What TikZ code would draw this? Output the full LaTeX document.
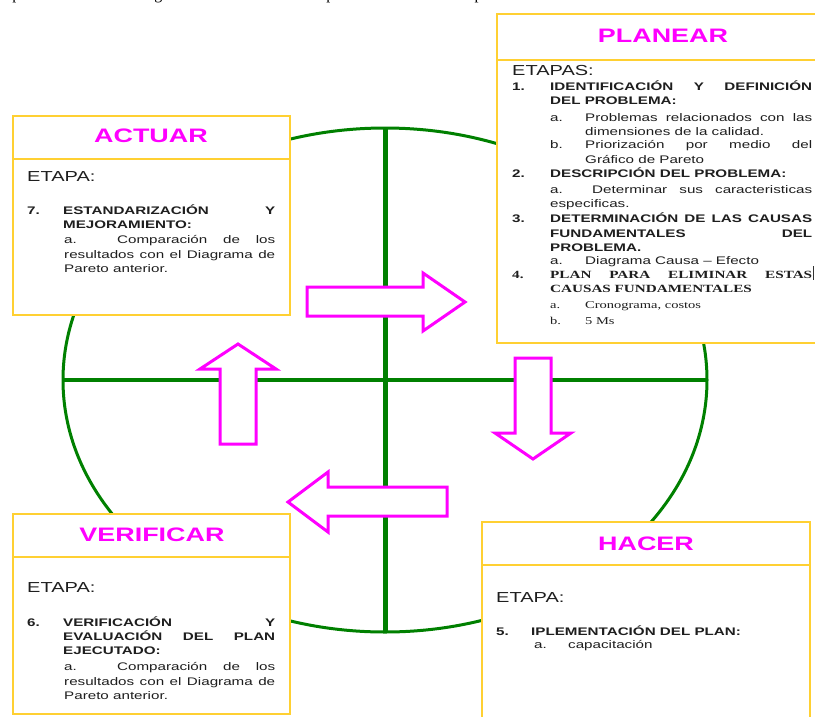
\documentclass[tikz,border=0pt]{standalone}
\usepackage{fontspec}
\newfontfamily\fSans[FakeStretch=1.38]{Liberation Sans}
\newfontfamily\fSerif[FakeStretch=1.38]{Liberation Serif}
\newfontfamily\fTop{Liberation Serif}
\definecolor{boxyel}{RGB}{255,208,50}
\definecolor{mag}{RGB}{255,0,255}
\definecolor{grn}{RGB}{0,128,0}
\definecolor{tgray}{RGB}{30,30,30}
\newcommand\fHd{\fSans\bfseries\fontsize{11}{13}\selectfont}
\newcommand\fRg{\fSans\fontsize{11}{13}\selectfont}
\newcommand\fEt{\fSans\fontsize{14.5}{16}\selectfont}
\newcommand\fTt{\fSans\bfseries\fontsize{19.5}{22}\selectfont}
\newcommand\fSb{\fSerif\bfseries\fontsize{11}{13}\selectfont}
\newcommand\fSr{\fSerif\fontsize{10.5}{12}\selectfont}
\newcommand\jl[2]{\makebox[#1pt][s]{#2}}
\tikzset{
  txt/.style={inner sep=0pt, anchor=base west, text=tgray},
  ttl/.style={inner sep=0pt, anchor=base, text=mag, font=\fTt},
  pbox/.style={draw=boxyel, line width=1.5pt, fill=white},
  barrow/.style={draw=mag, line width=3pt, fill=white, line join=miter},
  axis/.style={draw=grn}
}
\begin{document}
\begin{tikzpicture}[x=1pt,y=-1pt]
\useasboundingbox (0,0) rectangle (815,716);
% top (cut) line
\node[txt, text=black] (toptext) at (5,-0.4) {\fTop\fontsize{16}{18}\selectfont\jl{693}{epción metodológica estándar para la implementación de SCC}};
% circle and cross
\draw[axis, line width=3pt] (385,380) ellipse [x radius=322pt, y radius=252pt];
\draw[axis, line width=3.5pt] (63,380) -- (707,380);
\draw[axis, line width=5pt] (385,128) -- (385,632);
% arrows
\draw[barrow] (307,287) -- (423,287) -- (423,273) -- (465,302) -- (423,331) -- (423,316) -- (307,316) -- cycle;
\draw[barrow] (220,444) -- (220,369) -- (200,369) -- (238,344) -- (276,369) -- (256,369) -- (256,444) -- cycle;
\draw[barrow] (515,358) -- (551,358) -- (551,433) -- (571,433) -- (533,459) -- (495,433) -- (515,433) -- cycle;
\draw[barrow] (447,487) -- (328,487) -- (328,472) -- (288,502) -- (328,532) -- (328,516) -- (447,516) -- cycle;
% boxes
\draw[pbox] (497,14) rectangle (830,343);
\draw[draw=boxyel, line width=1.5pt] (497,60) -- (830,60);
\draw[pbox] (13,116) rectangle (290,315);
\draw[draw=boxyel, line width=1.5pt] (13,159) -- (290,159);
\draw[pbox] (13,514) rectangle (290,714);
\draw[draw=boxyel, line width=1.5pt] (13,557) -- (290,557);
\draw[pbox] (482,522) rectangle (810,730);
\draw[draw=boxyel, line width=1.5pt] (482,565) -- (810,565);
% titles
\node[ttl] (tplan) at (663,42) {PLANEAR};
\node[ttl] (tact) at (151,142) {ACTUAR};
\node[ttl] (tver) at (152,541) {VERIFICAR};
\node[ttl] (thac) at (646,550) {HACER};
% PLANEAR content
\node[txt] (p0) at (512,75) {\fEt ETAPAS:};
\node[txt] (p1n) at (512,90) {\fHd 1.};
\node[txt] (p1a) at (550,90) {\fHd\jl{262}{IDENTIFICACIÓN Y DEFINICIÓN}};
\node[txt] (p1b) at (550,104) {\fHd DEL PROBLEMA:};
\node[txt] (p1c) at (550,121) {\fRg a.};
\node[txt] (p1d) at (585,121) {\fRg\jl{227}{Problemas relacionados con las}};
\node[txt] (p1e) at (585,135) {\fRg dimensiones de la calidad.};
\node[txt] (p1f) at (550,148) {\fRg b.};
\node[txt] (p1g) at (585,148) {\fRg\jl{227}{Priorización por medio del}};
\node[txt] (p1h) at (585,163) {\fRg Gráfico de Pareto};
\node[txt] (p2n) at (512,177) {\fHd 2.};
\node[txt] (p2a) at (550,177) {\fHd DESCRIPCIÓN DEL PROBLEMA:};
\node[txt] (p2b) at (550,193) {\fRg\jl{262}{a. Determinar sus caracteristicas}};
\node[txt] (p2c) at (550,207) {\fRg especificas.};
\node[txt] (p3n) at (512,222) {\fHd 3.};
\node[txt] (p3a) at (550,222) {\fHd\jl{262}{DETERMINACIÓN DE LAS CAUSAS}};
\node[txt] (p3b) at (550,237) {\fHd\jl{262}{FUNDAMENTALES DEL}};
\node[txt] (p3c) at (550,251) {\fHd PROBLEMA.};
\node[txt] (p3d) at (550,264) {\fRg a.};
\node[txt] (p3e) at (585,264) {\fRg Diagrama Causa – Efecto};
\node[txt] (p4n) at (512,278) {\fSb 4.};
\node[txt] (p4a) at (550,278) {\fSb\jl{262}{PLAN PARA ELIMINAR ESTAS}};
\fill[black!80] (812.5,266) rectangle (814,280);
\node[txt] (p4b) at (550,292) {\fSb CAUSAS FUNDAMENTALES};
\node[txt] (p4c) at (550,308) {\fSr a.};
\node[txt] (p4d) at (585,308) {\fSr Cronograma, costos};
\node[txt] (p4e) at (550,324) {\fSr b.};
\node[txt] (p4f) at (585,324) {\fSr 5 Ms};
% ACTUAR content
\node[txt] (a0) at (27,181) {\fEt ETAPA:};
\node[txt] (a1n) at (27,214) {\fHd 7.};
\node[txt] (a1a) at (63,214) {\fHd\jl{212}{ESTANDARIZACIÓN Y}};
\node[txt] (a1b) at (63,228) {\fHd MEJORAMIENTO:};
\node[txt] (a1c) at (64,243) {\fRg\jl{211}{a. Comparación de los}};
\node[txt] (a1d) at (64,258) {\fRg\jl{211}{resultados con el Diagrama de}};
\node[txt] (a1e) at (64,272) {\fRg Pareto anterior.};
% VERIFICAR content
\node[txt] (v0) at (27,592) {\fEt ETAPA:};
\node[txt] (v1n) at (27,626) {\fHd 6.};
\node[txt] (v1a) at (63,626) {\fHd\jl{212}{VERIFICACIÓN Y}};
\node[txt] (v1b) at (63,640) {\fHd\jl{212}{EVALUACIÓN DEL PLAN}};
\node[txt] (v1c) at (63,654) {\fHd EJECUTADO:};
\node[txt] (v1d) at (64,670) {\fRg\jl{211}{a. Comparación de los}};
\node[txt] (v1e) at (64,685) {\fRg\jl{211}{resultados con el Diagrama de}};
\node[txt] (v1f) at (64,699) {\fRg Pareto anterior.};
% HACER content
\node[txt] (h0) at (496,602) {\fEt ETAPA:};
\node[txt] (h1n) at (496,635) {\fHd 5.};
\node[txt] (h1a) at (531,635) {\fHd IPLEMENTACIÓN DEL PLAN:};
\node[txt] (h1b) at (534,648) {\fRg a.};
\node[txt] (h1c) at (568,648) {\fRg capacitación};
\end{tikzpicture}
\end{document}
